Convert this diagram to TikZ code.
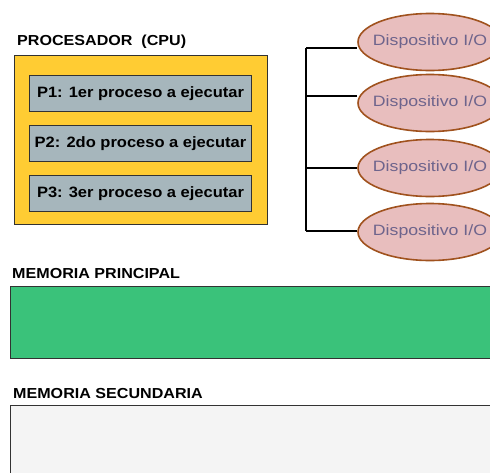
\documentclass[tikz,border=0pt]{standalone}
\usepackage{fontspec}
\setmainfont{Liberation Sans}
\newfontfamily\widefont[FakeStretch=1.1]{Liberation Sans}
\newfontfamily\titlefont[FakeStretch=1.11]{Liberation Sans}
\newfontfamily\devfont[FakeStretch=1.18]{Liberation Sans}
\usetikzlibrary{shapes.geometric}
\definecolor{cpuyellow}{RGB}{255,204,51}
\definecolor{procgray}{RGB}{166,182,188}
\definecolor{devpink}{RGB}{232,190,190}
\definecolor{devbrown}{RGB}{160,82,30}
\definecolor{devtext}{RGB}{110,100,140}
\definecolor{memgreen}{RGB}{58,194,122}
\definecolor{memgray}{RGB}{244,244,244}
\definecolor{edgegray}{RGB}{50,50,50}
\tikzset{
  title/.style={anchor=base west, inner sep=0pt, font=\titlefont\bfseries\fontsize{14.5}{16}\selectfont},
  procbox/.style={draw=edgegray, line width=1pt, fill=procgray, minimum width=222pt, minimum height=36pt, font=\widefont\bfseries\fontsize{15}{17}\selectfont, inner sep=0pt},
  device/.style={ellipse, draw=devbrown, line width=1.6pt, fill=devpink, minimum width=144pt, minimum height=57pt, inner sep=0pt},
  devlabel/.style={inner sep=0pt, text=devtext, font=\devfont\fontsize{15}{17}\selectfont},
  bus/.style={line width=1.6pt, black}
}
\begin{document}
\begin{tikzpicture}[x=1pt,y=-1pt]
\useasboundingbox (0,0) rectangle (490,472);
\clip (0,0) rectangle (490,472);
\fill[white] (0,0) rectangle (490,472);
% CPU
\node[title] (cputitle) at (17,45) {PROCESADOR~ (CPU)};
\node[draw=edgegray, line width=1pt, fill=cpuyellow, minimum width=253pt, minimum height=169pt, anchor=north west, inner sep=0pt] (cpu) at (14,55) {};
\node[procbox, anchor=north west] (p1) at (29,75) {P1: 1er proceso a ejecutar};
\node[procbox, anchor=north west] (p2) at (29,125) {P2: 2do proceso a ejecutar};
\node[procbox, anchor=north west] (p3) at (29,175) {P3: 3er proceso a ejecutar};
% devices
\node[device, label={[devlabel]center:Dispositivo I/O}] (d1) at (430,42) {};
\node[device, label={[devlabel]center:Dispositivo I/O}] (d2) at (430,103) {};
\node[device, label={[devlabel]center:Dispositivo I/O}] (d3) at (430,168) {};
\node[device, label={[devlabel]center:Dispositivo I/O}] (d4) at (430,232) {};
\coordinate (b1) at (306,48);
\coordinate (b2) at (306,96);
\coordinate (b3) at (306,168);
\coordinate (b4) at (306,231);
\draw[bus] (b1) -- (b4);
\draw[bus] (b1) -- (b1 -| d1.west);
\draw[bus] (b2) -- (b2 -| d2.west);
\draw[bus] (b3) -- (b3 -| d3.west);
\draw[bus] (b4) -- (b4 -| d4.west);
% memories
\node[title] (mptitle) at (12,278) {MEMORIA PRINCIPAL};
\node[draw=edgegray, line width=1pt, fill=memgreen, anchor=north west, minimum width=500pt, minimum height=72pt, inner sep=0pt] (mp) at (10,286) {};
\node[title] (mstitle) at (13,398) {MEMORIA SECUNDARIA};
\node[draw=edgegray, line width=1pt, fill=memgray, anchor=north west, minimum width=500pt, minimum height=100pt, inner sep=0pt] (ms) at (10,405) {};
\end{tikzpicture}
\end{document}
